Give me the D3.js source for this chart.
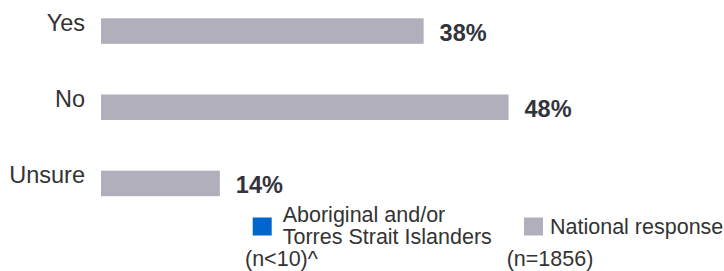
<!DOCTYPE html>
<html>
<head>
<meta charset="utf-8">
<script src="https://cdn.jsdelivr.net/npm/d3@7"></script>
<style>
  body { margin: 0; background: #fff; }
  text { font-family: "Liberation Sans", Arial, sans-serif; }
</style>
</head>
<body>
<script>
// Chart data
const categories = ["Yes", "No", "Unsure"];
const national = [38, 48, 14];
const aboriginal = [null, null, null]; // n<10, not shown
const seriesNames = ["Aboriginal and/or|Torres Strait Islanders", "National response"];
const seriesCounts = ["(n<10)^", "(n=1856)"];
const seriesColors = ["#0066cc", "#b0afbb"];

const width = 724;
const height = 271;

const svg = d3.select("body").append("svg")
    .attr("width", width)
    .attr("height", height);

// x: percent -> pixels
const x = d3.scaleLinear().domain([0, 100]).range([101, 950]);

// y: bar top per category
const y = d3.scalePoint().domain(categories).range([18.3, 170.7]);
const barH = 25.5;

const rows = categories.map((c, i) => ({ cat: c, nat: national[i], abo: aboriginal[i] }));

// Bars (national)
svg.selectAll("rect.bar")
    .data(rows)
  .enter().append("rect")
    .attr("class", "bar")
    .attr("x", x(0))
    .attr("y", d => y(d.cat))
    .attr("width", d => x(d.nat) - x(0))
    .attr("height", barH)
    .attr("fill", seriesColors[1]);

// Category labels
svg.selectAll("text.cat")
    .data(rows)
  .enter().append("text")
    .attr("class", "cat")
    .attr("x", 85)
    .attr("y", d => y(d.cat) + 12.5)
    .attr("text-anchor", "end")
    .attr("font-size", 23.5)
    .attr("fill", "#333333")
    .text(d => d.cat);

// Value labels
svg.selectAll("text.val")
    .data(rows)
  .enter().append("text")
    .attr("class", "val")
    .attr("x", d => x(d.nat) + 16)
    .attr("y", d => y(d.cat) + barH - 3)
    .attr("font-size", 23.5)
    .attr("font-weight", "bold")
    .attr("fill", "#33333d")
    .text(d => d.nat + "%");

// Legend
const legendX = [252.7, 524];
const legend = svg.selectAll("g.legend")
    .data(seriesNames)
  .enter().append("g")
    .attr("class", "legend")
    .attr("transform", (d, i) => `translate(${legendX[i]},217.5)`);

legend.append("rect")
    .attr("width", 19)
    .attr("height", 18)
    .attr("fill", (d, i) => seriesColors[i]);

legend.each(function (d, i) {
    const lines = d.split("|");
    const g = d3.select(this);
    const tx = i === 1 ? 26 : 30;
    const t = g.append("text")
        .attr("x", tx)
        .attr("font-size", 21.5)
        .attr("fill", "#333333");
    lines.forEach((ln, j) => {
        t.append("tspan")
            .attr("x", tx)
            .attr("y", lines.length === 1 ? 16 : 4.5 + j * 21.5)
            .text(ln);
    });
});

// Sample sizes
const countX = [245, 506.7];
svg.selectAll("text.count")
    .data(seriesCounts)
  .enter().append("text")
    .attr("class", "count")
    .attr("x", (d, i) => countX[i])
    .attr("y", 266)
    .attr("font-size", 21.5)
    .attr("fill", "#333333")
    .text(d => d);
</script>
</body>
</html>
